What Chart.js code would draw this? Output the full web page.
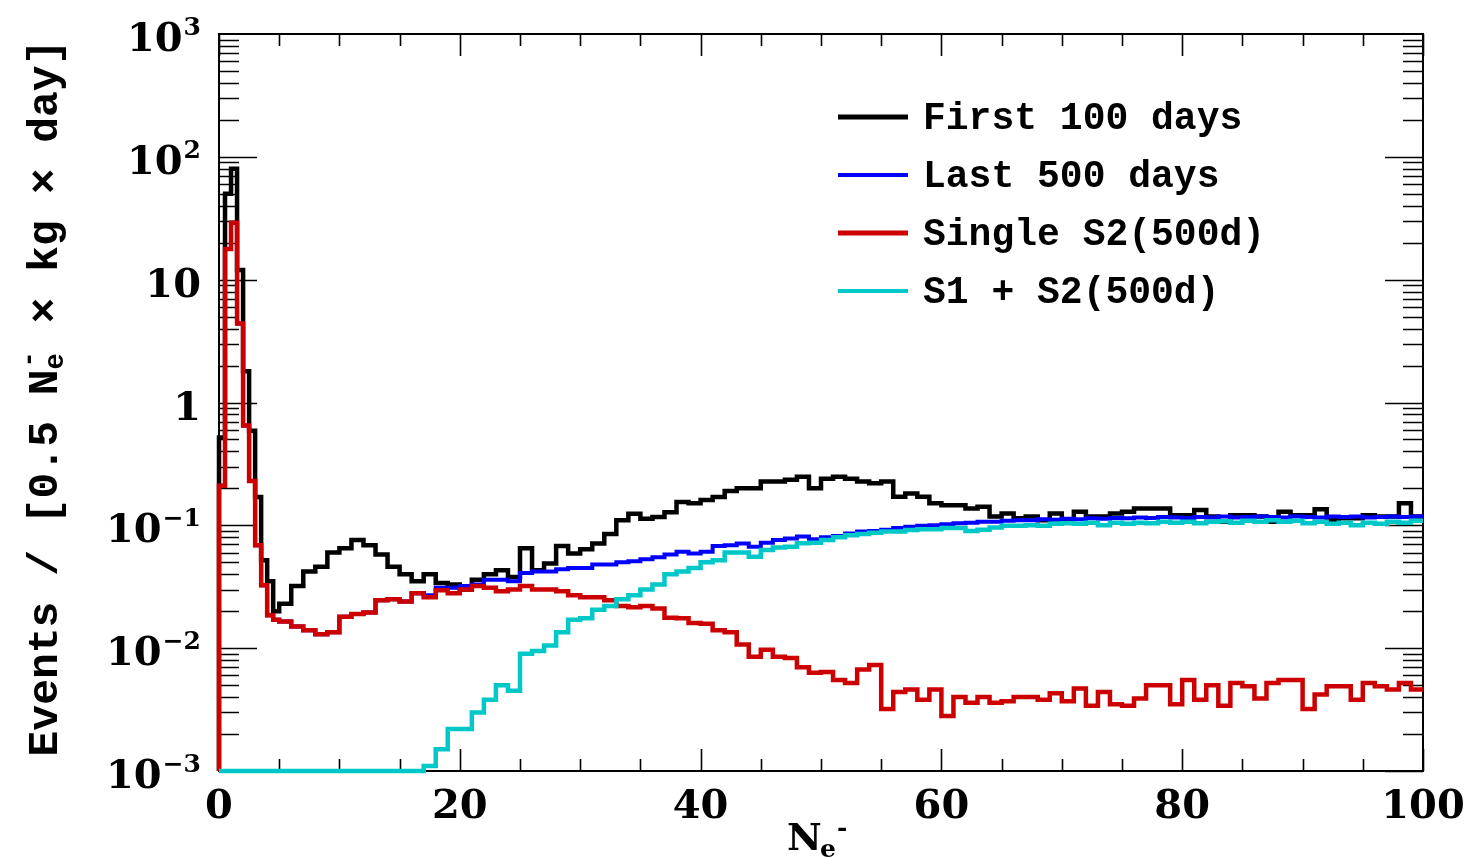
<!DOCTYPE html>
<html>
<head>
<meta charset="utf-8">
<script src="https://cdn.jsdelivr.net/npm/chart.js@4.4.0/dist/chart.umd.min.js"></script>
<style>
  html, body { margin: 0; padding: 0; background: #fff; }
  #grafico { display: block; }
</style>
</head>
<body>
<canvas id="grafico" width="1471" height="859"></canvas>
<script>
// bins: 0.5 wide from 0 to 5, then 1 wide up to 100 (lower edges)
const binLow = [];
for (let i = 0; i < 10; i++) binLow.push(i * 0.5);
for (let b = 5; b < 100; b++) binLow.push(b);
const xMax = 100;

const yMin = 1e-3, yMax = 1e3;
const xTickLabels = [0, 20, 40, 60, 80, 100];
const yDecades = [-3, -2, -1, 0, 1, 2, 3];

const labels = ['First 100 days', 'Last 500 days', 'Single S2(500d)', 'S1 + S2(500d)'];
const colors = ['#000000', '#0000ff', '#cc0000', '#00c8c8'];

const first100 = [
  0.52, 50, 80, 12, 1.8, 0.59, 0.17, 0.052, 0.035, 0.02,
  0.023, 0.032, 0.042, 0.046, 0.06, 0.065, 0.076, 0.069, 0.058, 0.046,
  0.040, 0.035, 0.040, 0.034, 0.033, 0.030, 0.036, 0.040, 0.043, 0.038,
  0.065, 0.043, 0.049, 0.068, 0.059, 0.064, 0.071, 0.085, 0.11, 0.124,
  0.113, 0.117, 0.128, 0.155, 0.151, 0.161, 0.17, 0.19, 0.20, 0.20,
  0.227, 0.227, 0.235, 0.249, 0.2, 0.24, 0.249, 0.24, 0.227, 0.22,
  0.227, 0.171, 0.182, 0.171, 0.151, 0.146, 0.146, 0.137, 0.142, 0.118,
  0.125, 0.114, 0.118, 0.11, 0.125, 0.107, 0.129, 0.118, 0.118, 0.125,
  0.129, 0.137, 0.137, 0.137, 0.121, 0.121, 0.133, 0.118, 0.107, 0.121,
  0.121, 0.118, 0.107, 0.129, 0.121, 0.121, 0.135, 0.11, 0.114, 0.114,
  0.121, 0.118, 0.118, 0.151, 0.118
];

const last500 = [
  0.21, 17.8, 29, 4.4, 0.65, 0.23, 0.069, 0.0325, 0.0185, 0.017,
  0.0165, 0.015, 0.014, 0.013, 0.0135, 0.018, 0.019, 0.0195, 0.0245, 0.025,
  0.024, 0.028, 0.027, 0.031, 0.031, 0.032, 0.033, 0.036, 0.036, 0.035,
  0.041, 0.042, 0.042, 0.044, 0.045, 0.045, 0.048, 0.048, 0.050, 0.051,
  0.053, 0.055, 0.058, 0.061, 0.059, 0.061, 0.068, 0.069, 0.071, 0.067,
  0.072, 0.076, 0.078, 0.081, 0.077, 0.080, 0.082, 0.086, 0.089, 0.090,
  0.092, 0.095, 0.0975, 0.099, 0.100, 0.102, 0.104, 0.105, 0.107, 0.107,
  0.109, 0.110, 0.110, 0.112, 0.111, 0.113, 0.112, 0.114, 0.113, 0.115,
  0.114, 0.116, 0.115, 0.117, 0.116, 0.115, 0.117, 0.116, 0.118, 0.116,
  0.117, 0.118, 0.117, 0.116, 0.118, 0.117, 0.116, 0.118, 0.117, 0.118,
  0.116, 0.117, 0.118, 0.117, 0.118
];

const singleS2 = [
  0.21, 17.8, 29, 4.4, 0.65, 0.23, 0.069, 0.0325, 0.0185, 0.017,
  0.0165, 0.015, 0.014, 0.013, 0.0135, 0.018, 0.019, 0.0195, 0.0245, 0.025,
  0.024, 0.028, 0.026, 0.0296, 0.028, 0.030, 0.032, 0.031, 0.029, 0.030,
  0.032, 0.030, 0.030, 0.029, 0.027, 0.026, 0.026, 0.0245, 0.022, 0.0215,
  0.022, 0.021, 0.0177, 0.0175, 0.016, 0.0158, 0.014, 0.0135, 0.0107, 0.0085,
  0.0097, 0.0085, 0.0083, 0.007, 0.0063, 0.0064, 0.0055, 0.0052, 0.0067, 0.0073,
  0.0032, 0.0044, 0.0046, 0.0038, 0.0046, 0.0028, 0.0040, 0.0036, 0.0040, 0.0036,
  0.0037, 0.0040, 0.0040, 0.0038, 0.0043, 0.0037, 0.0047, 0.0034, 0.0044, 0.0035,
  0.0034, 0.0039, 0.0050, 0.0050, 0.0035, 0.0055, 0.0038, 0.0050, 0.0034, 0.0052,
  0.0049, 0.0039, 0.0052, 0.0055, 0.0055, 0.0032, 0.0042, 0.0049, 0.0049, 0.0038,
  0.0052, 0.0049, 0.0046, 0.0052, 0.0046
];

const s1s2 = [
  0, 0, 0, 0, 0, 0, 0, 0, 0, 0,
  0, 0, 0, 0, 0, 0, 0, 0, 0, 0,
  0, 0, 0.0011, 0.0015, 0.0022, 0.0022, 0.0030, 0.0038, 0.0050, 0.0045,
  0.0090, 0.0095, 0.0105, 0.0135, 0.0170, 0.0175, 0.0205, 0.022, 0.025, 0.027,
  0.030, 0.033, 0.040, 0.042, 0.045, 0.050, 0.052, 0.060, 0.060, 0.0556,
  0.063, 0.066, 0.067, 0.0714, 0.072, 0.076, 0.080, 0.083, 0.085, 0.087,
  0.089, 0.089, 0.0916, 0.093, 0.093, 0.095, 0.095, 0.090, 0.092, 0.096,
  0.099, 0.099, 0.100, 0.099, 0.103, 0.104, 0.103, 0.105, 0.100, 0.105,
  0.103, 0.105, 0.104, 0.107, 0.105, 0.107, 0.104, 0.107, 0.108, 0.105,
  0.109, 0.107, 0.110, 0.107, 0.109, 0.104, 0.107, 0.103, 0.105, 0.100,
  0.105, 0.103, 0.107, 0.105, 0.109
];

// histogram as step line: rise from the axis at x=0, close at x=100
// empty bins sit on the bottom of the log axis
function histPoints(values) {
  const floor = v => (v > 0 ? v : yMin);
  const pts = [{ x: binLow[0], y: yMin }];
  values.forEach((v, i) => pts.push({ x: binLow[i], y: floor(v) }));
  pts.push({ x: xMax, y: floor(values[values.length - 1]) });
  return pts;
}

const serifBold = 'bold 40px "DejaVu Serif"';
const monoFont = '"Liberation Mono"';

// frame and inside ticks (drawn under the histograms)
const framePlugin = {
  id: 'frame',
  beforeDatasetsDraw(chart) {
    const { ctx, chartArea: a, scales: { x, y } } = chart;
    ctx.save();
    ctx.strokeStyle = '#000';
    ctx.lineWidth = 2;
    ctx.strokeRect(a.left, a.top, a.right - a.left, a.bottom - a.top);
    ctx.lineWidth = 1.6;
    ctx.beginPath();
    for (let d = -3; d < 3; d++) {
      for (let k = 1; k <= 9; k++) {
        const py = Math.round(y.getPixelForValue(k * Math.pow(10, d))) + 0.5;
        const len = k === 1 ? 38 : 20;
        ctx.moveTo(a.left, py); ctx.lineTo(a.left + len, py);
        ctx.moveTo(a.right, py); ctx.lineTo(a.right - len, py);
      }
    }
    for (let t = 0; t <= xMax; t += 5) {
      const px = Math.round(x.getPixelForValue(t)) + 0.5;
      const len = t % 20 === 0 ? 22 : 12;
      ctx.moveTo(px, a.bottom); ctx.lineTo(px, a.bottom - len);
      ctx.moveTo(px, a.top); ctx.lineTo(px, a.top + len);
    }
    ctx.stroke();
    ctx.restore();
  }
};

// tick labels, axis titles and legend
const textPlugin = {
  id: 'texts',
  afterDraw(chart) {
    const { ctx, chartArea: a, scales: { x, y } } = chart;
    ctx.save();
    ctx.fillStyle = '#000';

    // y tick labels
    ctx.textAlign = 'right';
    ctx.textBaseline = 'alphabetic';
    yDecades.forEach(d => {
      const py = y.getPixelForValue(Math.pow(10, d));
      const right = 201;
      if (d === 0 || d === 1) {
        ctx.font = serifBold;
        ctx.fillText(d === 0 ? '1' : '10', right, py + 17);
      } else {
        const exp = d < 0 ? '\u2212' + (-d) : String(d);
        ctx.font = 'bold 25px "DejaVu Serif"';
        const w = ctx.measureText(exp).width;
        ctx.fillText(exp, right, py + 1);
        ctx.font = serifBold;
        ctx.fillText('10', right - w - 1, py + 17);
      }
    });

    // x tick labels
    ctx.textAlign = 'center';
    ctx.font = serifBold;
    xTickLabels.forEach(t => {
      ctx.fillText(String(t), x.getPixelForValue(t), 818);
    });

    // x title N_e^-
    ctx.textAlign = 'left';
    ctx.font = 'bold 38px "DejaVu Serif"';
    ctx.fillText('N', 787, 850);
    ctx.font = 'bold 25px "DejaVu Serif"';
    ctx.fillText('e', 820, 857);
    ctx.fillText('-', 837, 836);

    // y title, rotated
    const main = 'bold 43px ' + monoFont;
    const small = 'bold 27px ' + monoFont;
    const p1 = 'Events / [0.5 N', p2 = 'e', p3 = '-', p4 = ' \u00d7 kg \u00d7 day]';
    ctx.font = main;
    const w1 = ctx.measureText(p1).width, w4 = ctx.measureText(p4).width;
    ctx.font = small;
    const w2 = ctx.measureText(p2).width;
    const total = w1 + w2 + 4 + w4;
    ctx.save();
    ctx.translate(57, 398);
    ctx.rotate(-Math.PI / 2);
    let cx = -total / 2;
    ctx.font = main;
    ctx.fillText(p1, cx, 0); cx += w1;
    ctx.font = small;
    ctx.fillText(p2, cx, 6);
    ctx.fillText(p3, cx + 2, -20);
    cx += w2 + 4;
    ctx.font = main;
    ctx.fillText(p4, cx, 0);
    ctx.restore();

    // legend
    const rows = [117, 175, 233, 291];
    const widths = [5, 4, 5, 4];
    ctx.font = 'bold 38px ' + monoFont;
    ctx.textBaseline = 'middle';
    labels.forEach((lab, i) => {
      ctx.strokeStyle = colors[i];
      ctx.lineWidth = widths[i];
      ctx.beginPath();
      ctx.moveTo(838, rows[i]);
      ctx.lineTo(908, rows[i]);
      ctx.stroke();
      ctx.fillStyle = '#000';
      ctx.fillText(lab, 923, rows[i] + 2);
    });
    ctx.restore();
  }
};

const ctx = document.getElementById('grafico').getContext('2d');
const grafico = new Chart(ctx, {
  type: 'line',
  data: {
    datasets: [
      { label: labels[0], data: histPoints(first100), borderColor: colors[0], borderWidth: 4.5, order: 3 },
      { label: labels[1], data: histPoints(last500), borderColor: colors[1], borderWidth: 4, order: 2 },
      { label: labels[2], data: histPoints(singleS2), borderColor: colors[2], borderWidth: 4.5, order: 1 },
      { label: labels[3], data: histPoints(s1s2), borderColor: colors[3], borderWidth: 4.5, order: 0 }
    ]
  },
  options: {
    responsive: false,
    animation: false,
    layout: { padding: { left: 0, right: 48, top: 34, bottom: 0 } },
    elements: {
      point: { radius: 0 },
      line: { stepped: 'before', tension: 0, fill: false, borderCapStyle: 'butt', borderJoinStyle: 'miter' }
    },
    datasets: { line: { clip: 5 } },
    plugins: { legend: { display: false }, tooltip: { enabled: false } },
    scales: {
      x: {
        type: 'linear', min: 0, max: xMax,
        grid: { display: false, drawTicks: false },
        border: { display: false },
        ticks: { display: false },
        afterFit: s => { s.height = 88; }
      },
      y: {
        type: 'logarithmic', min: yMin, max: yMax,
        grid: { display: false, drawTicks: false },
        border: { display: false },
        ticks: { display: false },
        afterFit: s => { s.width = 219; }
      }
    }
  },
  plugins: [framePlugin, textPlugin]
});
</script>
</body>
</html>
